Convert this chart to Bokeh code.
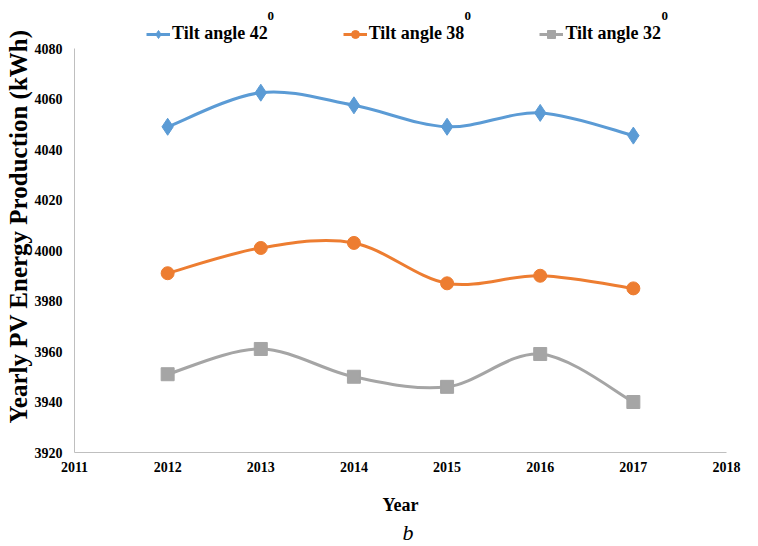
from bokeh.plotting import figure
from bokeh.models import (Legend, LegendItem, Label, Title, FixedTicker, Range1d)
from bokeh.embed import file_html
from bokeh.resources import INLINE

years = [2012, 2013, 2014, 2015, 2016, 2017]
tilt42 = [4049, 4062.5, 4057.5, 4049, 4054.5, 4045.5]
tilt38 = [3991, 4001, 4003, 3987, 3990, 3985]
tilt32 = [3951, 3961, 3950, 3946, 3959, 3940]
series_names = ["Tilt angle 42", "Tilt angle 38", "Tilt angle 32"]
superscript = "0"
colors = ["#5B9BD5", "#ED7D31", "#A5A5A5"]
x_ticks = [2011, 2012, 2013, 2014, 2015, 2016, 2017, 2018]
y_ticks = [3920, 3940, 3960, 3980, 4000, 4020, 4040, 4060, 4080]

SERIF = "Liberation Serif"

# frame spans the whole height above the x axis so the legend fits inside it
p = figure(width=742, height=546, output_backend="svg", toolbar_location=None,
           x_range=Range1d(2011, 2018), y_range=Range1d(3920, 4099.01),
           min_border_left=74, min_border_right=16, min_border_top=0,
           min_border_bottom=94)
p.outline_line_color = None
p.grid.grid_line_color = None

for ax in (p.xaxis[0], p.yaxis[0]):
    ax.axis_line_color = "#BFBFBF"
    ax.axis_line_width = 1
    ax.major_tick_line_color = None
    ax.minor_tick_line_color = None
    ax.major_label_text_font = SERIF
    ax.major_label_text_font_style = "bold"
    ax.major_label_text_font_size = "14px"
    ax.major_label_text_color = "#000000"
    ax.axis_label_text_font = SERIF
    ax.axis_label_text_font_style = "bold"
    ax.axis_label_text_color = "#000000"

p.xaxis.ticker = FixedTicker(ticks=x_ticks)
p.yaxis.ticker = FixedTicker(ticks=y_ticks)
p.yaxis.bounds = (y_ticks[0], y_ticks[-1])
p.xaxis.major_label_standoff = 3
p.yaxis.major_label_standoff = 6
p.xaxis.axis_label = "Year"
p.xaxis.axis_label_text_font_size = "18px"
p.xaxis.axis_label_standoff = 20

p.add_layout(Title(text="Yearly PV Energy Production (kWh)", text_font=SERIF,
                   text_font_style="bold", text_font_size="25px",
                   align="center", offset=-50, standoff=0,
                   text_color="#000000"), "left")


def smooth(xs, ys):
    n = len(xs)
    x0, y0, x1, y1, cx0, cy0, cx1, cy1 = [], [], [], [], [], [], [], []
    for i in range(n - 1):
        pa = i - 1 if i > 0 else i
        pb = i + 2 if i + 2 < n else i + 1
        x0.append(xs[i]); y0.append(ys[i])
        x1.append(xs[i + 1]); y1.append(ys[i + 1])
        cx0.append(xs[i] + (xs[i + 1] - xs[pa]) / 6.0)
        cy0.append(ys[i] + (ys[i + 1] - ys[pa]) / 6.0)
        cx1.append(xs[i + 1] - (xs[pb] - xs[i]) / 6.0)
        cy1.append(ys[i + 1] - (ys[pb] - ys[i]) / 6.0)
    return dict(x0=x0, y0=y0, x1=x1, y1=y1, cx0=cx0, cy0=cy0, cx1=cx1, cy1=cy1)


items = []
markers = ["diamond", "circle", "square"]
sizes = [17, 13, 13]
for name, ys, col, mk, sz in zip(series_names, [tilt42, tilt38, tilt32],
                                 colors, markers, sizes):
    b = p.bezier(line_color=col, line_width=3, **smooth(years, ys))
    s = p.scatter(years, ys, marker=mk, size=sz, fill_color=col,
                  line_color=col)
    items.append(LegendItem(label=name, renderers=[b, s]))

legend = Legend(items=items, orientation="horizontal", location=(72, 408),
                label_text_font=SERIF, label_text_font_style="bold",
                label_text_font_size="18px", label_text_color="#000000",
                glyph_width=24, glyph_height=20, label_standoff=2,
                spacing=75, padding=4, margin=0,
                border_line_color=None, background_fill_alpha=0)
p.add_layout(legend)

for sx in (193, 390, 587):
    p.add_layout(Label(x=sx, y=437, x_units="screen", y_units="screen",
                       text=superscript, text_font=SERIF,
                       text_font_style="bold", text_font_size="13px",
                       text_baseline="middle", text_color="#000000"))

p.add_layout(Title(text="b", text_font=SERIF, text_font_style="italic",
                   text_font_size="22px", align="left", offset=328,
                   text_color="#000000", standoff=0), "below")

out = open("out.html", "w")
out.write(file_html(p, INLINE))
out.close()
